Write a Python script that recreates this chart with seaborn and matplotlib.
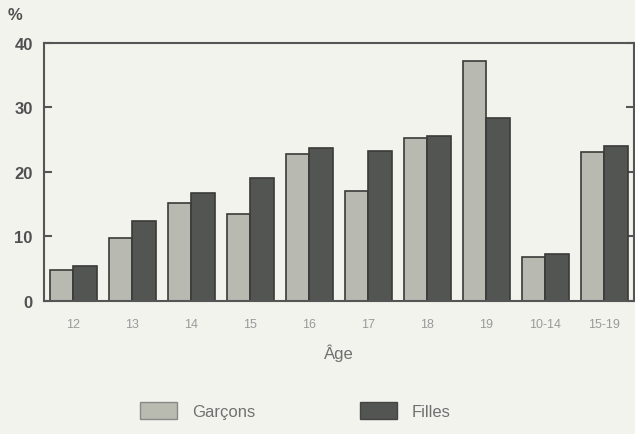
import pandas as pd
import seaborn as sns
import matplotlib.pyplot as plt
from matplotlib.patches import Patch

# valeurs (%)
ages = ['12', '13', '14', '15', '16', '17', '18', '19', '10-14', '15-19']
garcons = [4.8, 9.8, 15.2, 13.5, 22.8, 17.0, 25.3, 37.2, 6.8, 23.1]
filles = [5.4, 12.4, 16.7, 19.1, 23.7, 23.3, 25.6, 28.4, 7.3, 24.0]

df = pd.DataFrame({
    'Age': ages * 2,
    'Pct': garcons + filles,
    'Sexe': ['Garçons'] * len(ages) + ['Filles'] * len(ages)
})

bg = '#f3f3ee'
col_g = '#b9bbb1'
col_f = '#535552'
edge = '#3a3a38'

sns.set_style('white')
plt.rcParams['font.family'] = ['Liberation Sans', 'DejaVu Sans']

fig = plt.figure(figsize=(6.35, 4.35), dpi=100, facecolor=bg)
ax = fig.add_axes([0.069, 0.306, 0.929, 0.593])
ax.set_facecolor(bg)

sns.barplot(data=df, x='Age', y='Pct', hue='Sexe', order=ages,
            palette={'Garçons': col_g, 'Filles': col_f},
            width=0.8, edgecolor=edge, linewidth=1.2, legend=False, ax=ax)

ax.set_xlim(-0.5, 9.5)
ax.set_ylim(0, 40)
ax.set_yticks([0, 10, 20, 30, 40])
ax.set_yticklabels(['0', '10', '20', '30', '40'], fontsize=12, color='#505050',
                   fontweight='bold')
for spine in ax.spines.values():
    spine.set_visible(True)
    spine.set_color('#555555')
    spine.set_linewidth(1.5)
ax.tick_params(axis='y', direction='in', length=6, width=1.5, color='#555555',
               right=True, left=True, pad=8)
ax.tick_params(axis='x', length=0, labelsize=9, labelcolor='#999999', pad=12)
ax.set_xlabel('Âge', fontsize=12, color='#707070', labelpad=10)
ax.set_ylabel('')
fig.text(0.012, 0.955, '%', fontsize=12, color='#505050', fontweight='bold')

handles = [Patch(facecolor=col_g, edgecolor='#888888', label='Garçons'),
           Patch(facecolor=col_f, edgecolor='#444444', label='Filles')]
leg = fig.legend(handles=handles, loc='lower center', bbox_to_anchor=(0.465, 0.0),
                 ncol=2, frameon=False, fontsize=12, columnspacing=6.3,
                 handlelength=2.2, handleheight=1.2, handletextpad=0.9)
for t in leg.get_texts():
    t.set_color('#707070')

fig.savefig('out.png', dpi=100, facecolor=bg)
